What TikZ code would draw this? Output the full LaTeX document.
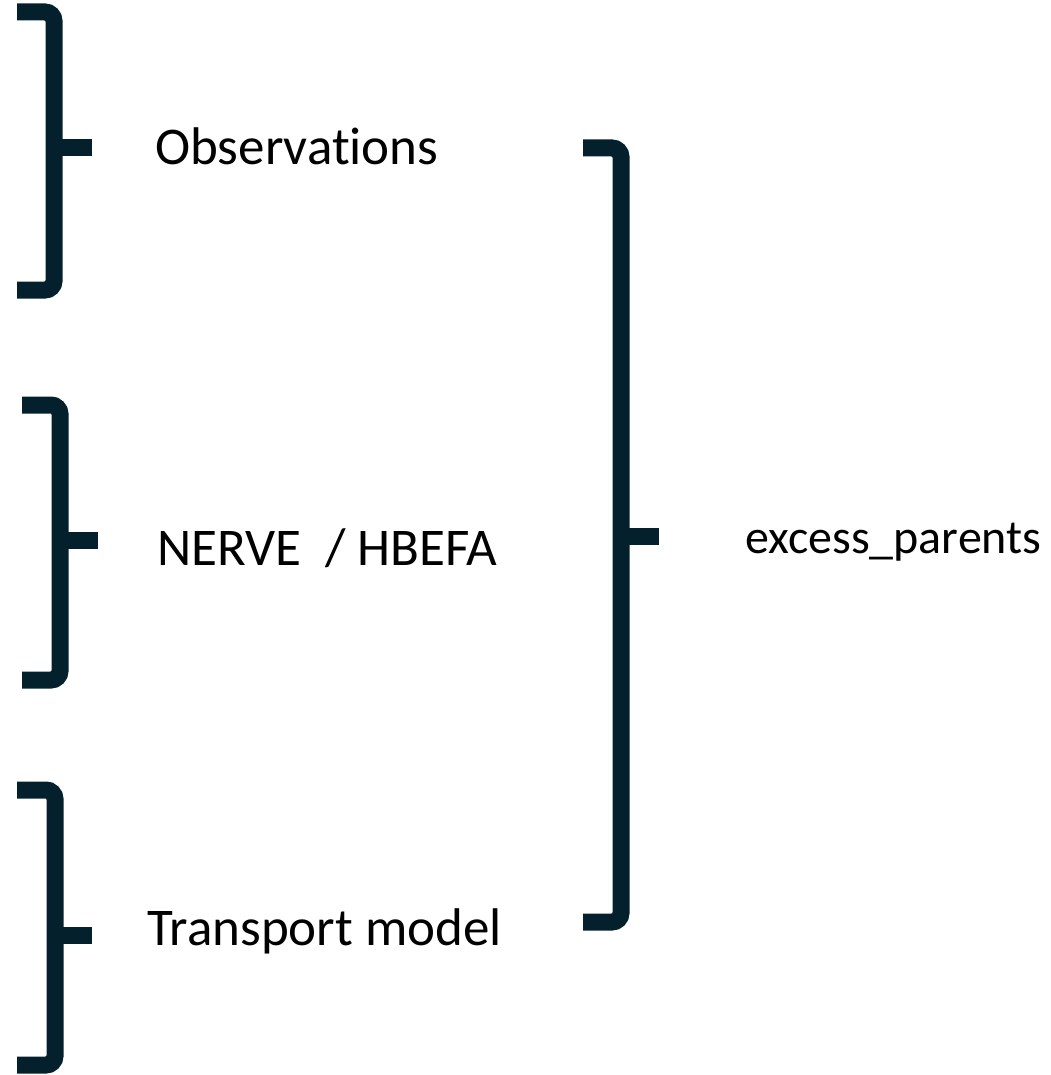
\documentclass[tikz,border=0pt]{standalone}
\usepackage{fontspec}
\setmainfont[RawFeature=-liga]{Carlito}
\definecolor{bracecol}{HTML}{04202C}
\begin{document}
\begin{tikzpicture}[x=1pt,y=-1pt,
  bracestroke/.style={draw=bracecol,line width=17pt,rounded corners=9pt,line cap=butt,line join=miter},
  tipstroke/.style={draw=bracecol,line width=17pt,line cap=butt},
  lbl/.style={anchor=base west,inner sep=0pt,font=\fontsize{53}{63}\selectfont,text=black},
  lblsmall/.style={anchor=base west,inner sep=0pt,font=\fontsize{48}{57}\selectfont,text=black}]
\useasboundingbox (0,0) rectangle (1050,1075);
% brace 1
\coordinate (b1top) at (17,12);
\coordinate (b1tip) at (54,148);
\coordinate (b1bot) at (17,290);
\draw[bracestroke] (b1top) -| (b1tip) |- (b1bot);
\draw[tipstroke] (46,148) -- (92,148);
% brace 2
\coordinate (b2top) at (22,405);
\coordinate (b2tip) at (60,540);
\coordinate (b2bot) at (22,680);
\draw[bracestroke] (b2top) -| (b2tip) |- (b2bot);
\draw[tipstroke] (52,540) -- (98,540);
% brace 3
\coordinate (b3top) at (17,790);
\coordinate (b3tip) at (55,935);
\coordinate (b3bot) at (17,1065);
\draw[bracestroke] (b3top) -| (b3tip) |- (b3bot);
\draw[tipstroke] (47,935) -- (92,935);
% big brace
\coordinate (bbtop) at (583,148);
\coordinate (bbtip) at (621,536);
\coordinate (bbbot) at (583,922);
\draw[bracestroke] (bbtop) -| (bbtip) |- (bbbot);
\draw[tipstroke] (613,536) -- (659,536);
% labels
\node[lbl] (obs) at (155,165) {Observations};
\node[lbl] (nerve) at (157,565) {NERVE\ \ / HBEFA};
\node[lbl] (trans) at (147,945) {Transport model};
\node[lblsmall] (excess) at (745,553) {excess\_parents};
\end{tikzpicture}
\end{document}
